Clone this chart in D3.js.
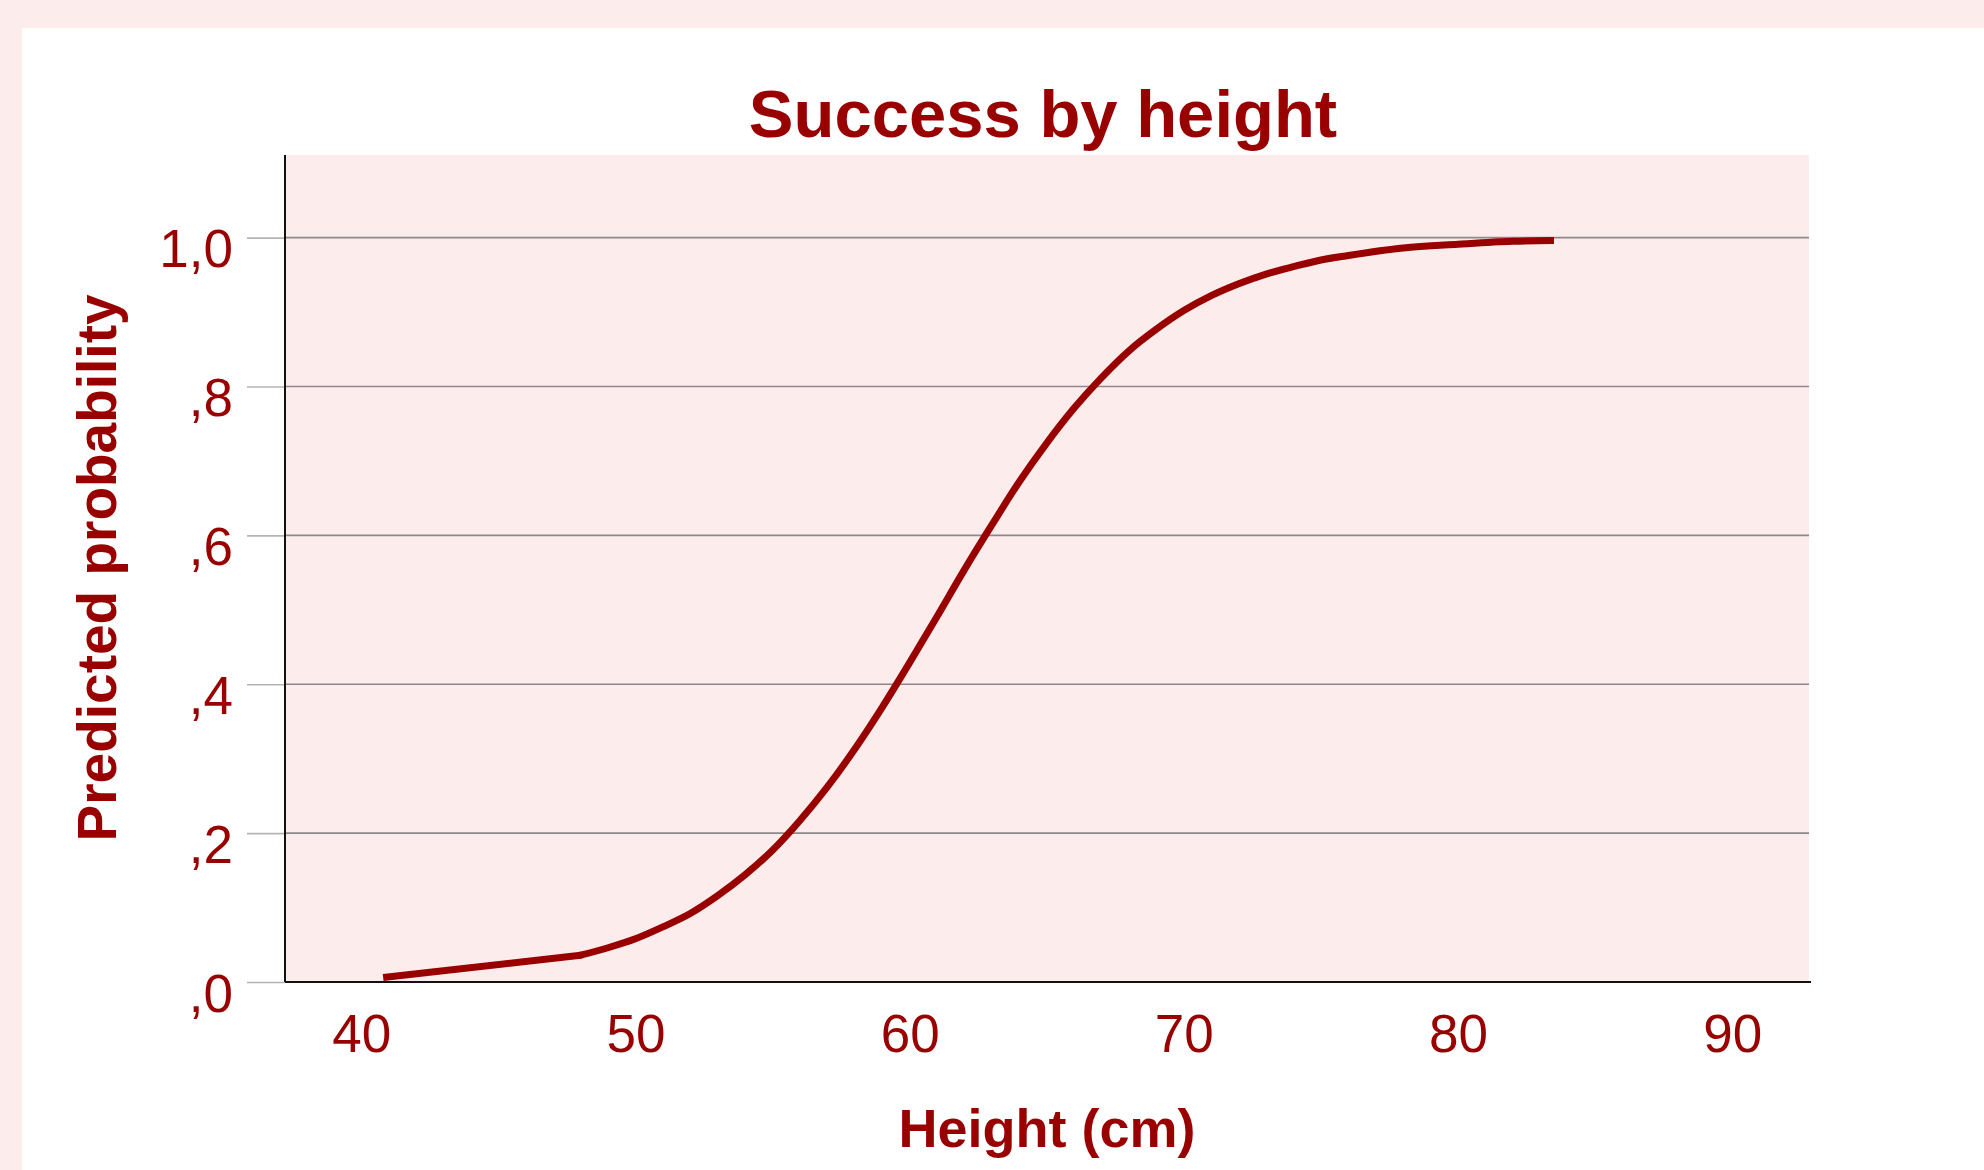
<!DOCTYPE html>
<html>
<head>
<meta charset="utf-8">
<script src="https://cdn.jsdelivr.net/npm/d3@7"></script>
<style>
  html, body { margin: 0; padding: 0; background: #fcedec; }
  svg { display: block; }
  text { font-family: "Liberation Sans", Arial, sans-serif; fill: #990000; }
</style>
</head>
<body>
<svg id="chart" width="1984" height="1170"></svg>
<script>
// heights (cm) and predicted probabilities
var heights = [40.8, 48, 49, 50, 51, 52, 53, 54, 55, 56, 57, 58, 59, 60, 61, 62, 63, 64,
               65, 66, 67, 68, 69, 70, 71, 72, 73, 74, 75, 76, 78, 80, 82, 83.5];
var probs = [0.006, 0.036, 0.046, 0.058, 0.074, 0.092, 0.116, 0.144, 0.177, 0.217, 0.262,
             0.313, 0.369, 0.429, 0.491, 0.554, 0.614, 0.672, 0.724, 0.771, 0.812, 0.848,
             0.877, 0.902, 0.922, 0.938, 0.951, 0.961, 0.970, 0.976, 0.986, 0.991, 0.995, 0.996];
var xTicks = [40, 50, 60, 70, 80, 90];
var yTicks = [0, 0.2, 0.4, 0.6, 0.8, 1.0];

var titleText = "Success by height";
var xTitle = "Height (cm)";
var yTitle = "Predicted probability";

var svg = d3.select("#chart");
var red = "#990000";

// plot box
var plotLeft = 285, plotRight = 1809, plotTop = 155, plotBottom = 982;

var x = d3.scaleLinear().domain([37.22, 92.8]).range([plotLeft, plotRight]);
var y = d3.scaleLinear().domain([0, 1.111]).range([plotBottom, plotTop]);

// white panel
svg.append("rect")
  .attr("x", 22).attr("y", 28)
  .attr("width", 1984 - 22).attr("height", 1170 - 28)
  .attr("fill", "#ffffff");

// plot background
svg.append("rect")
  .attr("x", plotLeft).attr("y", plotTop)
  .attr("width", plotRight - plotLeft).attr("height", plotBottom - plotTop)
  .attr("fill", "#fcedec");

// grid lines
svg.append("g")
  .selectAll("line")
  .data(yTicks.filter(function(d) { return d > 0; }))
  .join("line")
  .attr("x1", plotLeft).attr("x2", plotRight)
  .attr("y1", function(d) { return y(d); })
  .attr("y2", function(d) { return y(d); })
  .attr("stroke", "#8a8a8a")
  .attr("stroke-width", 1.6);

// y axis ticks
var fmt = function(d) {
  return d3.format(".1f")(d).replace(".", ",").replace(/^0/, "");
};
var yAxis = svg.append("g")
  .attr("transform", "translate(" + plotLeft + ",0)")
  .call(d3.axisLeft(y).tickValues(yTicks).tickSize(38).tickFormat(fmt));
yAxis.select(".domain").remove();
yAxis.selectAll(".tick line").attr("stroke", "#b4b4b4").attr("stroke-width", 1.6);
yAxis.selectAll(".tick text")
  .attr("x", -52)
  .attr("dy", "29px")
  .attr("font-size", 53)
  .attr("font-family", "Liberation Sans, Arial, sans-serif")
  .attr("fill", red);

// x axis labels (no tick marks)
var xAxis = svg.append("g")
  .attr("transform", "translate(0," + plotBottom + ")")
  .call(d3.axisBottom(x).tickValues(xTicks).tickSize(0).tickFormat(d3.format("d")));
xAxis.select(".domain").remove();
xAxis.selectAll(".tick text")
  .attr("y", 70)
  .attr("dy", 0)
  .attr("font-size", 53)
  .attr("font-family", "Liberation Sans, Arial, sans-serif")
  .attr("fill", red);

// axis lines
svg.append("line")
  .attr("x1", plotLeft).attr("x2", plotLeft)
  .attr("y1", plotTop).attr("y2", plotBottom)
  .attr("stroke", "#111").attr("stroke-width", 2);
svg.append("line")
  .attr("x1", plotLeft).attr("x2", plotRight + 2)
  .attr("y1", plotBottom).attr("y2", plotBottom)
  .attr("stroke", "#111").attr("stroke-width", 2);

// curve: straight over the gap 40.8-48, smooth after that
var pts = heights.map(function(h, i) { return [h, probs[i]]; });
var lineStraight = d3.line()
  .x(function(d) { return x(d[0]); })
  .y(function(d) { return y(d[1]); });
var lineSmooth = d3.line()
  .x(function(d) { return x(d[0]); })
  .y(function(d) { return y(d[1]); })
  .curve(d3.curveMonotoneX);

svg.append("path")
  .datum(pts.slice(0, 2))
  .attr("d", lineStraight)
  .attr("fill", "none")
  .attr("stroke", red)
  .attr("stroke-linecap", "butt")
  .attr("stroke-width", 7);
svg.append("path")
  .datum(pts.slice(1))
  .attr("d", lineSmooth)
  .attr("fill", "none")
  .attr("stroke", red)
  .attr("stroke-linejoin", "round")
  .attr("stroke-width", 7);
// round joint at the kink
svg.append("circle")
  .attr("cx", x(heights[1])).attr("cy", y(probs[1]))
  .attr("r", 3.5)
  .attr("fill", red);

// titles
svg.append("text")
  .attr("x", 1043).attr("y", 137)
  .attr("text-anchor", "middle")
  .attr("font-size", 67)
  .attr("font-weight", "bold")
  .text(titleText);

svg.append("text")
  .attr("x", (plotLeft + plotRight) / 2).attr("y", 1147)
  .attr("text-anchor", "middle")
  .attr("font-size", 54)
  .attr("font-weight", "bold")
  .text(xTitle);

svg.append("text")
  .attr("transform", "translate(116," + 568 + ") rotate(-90)")
  .attr("text-anchor", "middle")
  .attr("font-size", 55)
  .attr("font-weight", "bold")
  .text(yTitle);
</script>
</body>
</html>
